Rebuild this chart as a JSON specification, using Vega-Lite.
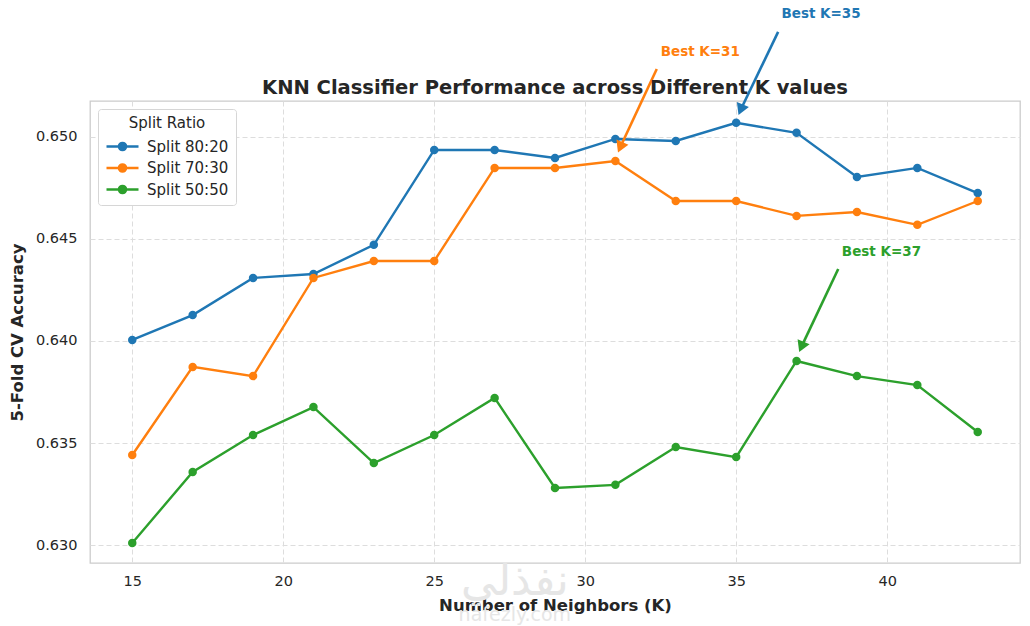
{
  "$schema": "https://vega.github.io/schema/vega-lite/v6.json",
  "width": 930,
  "height": 462,
  "autosize": {"type": "none"},
  "padding": {"left": 90, "top": 101, "right": 10, "bottom": 63},
  "background": "white",
  "title": {
    "text": "KNN Classifier Performance across Different K values",
    "fontSize": 19.5,
    "fontWeight": "bold",
    "color": "#262626",
    "offset": 8,
    "dy": 100
  },
  "datasets": {
    "scores": [
      {"split": "Split 80:20", "k": 15, "acc": 0.64005},
      {"split": "Split 80:20", "k": 17, "acc": 0.64127},
      {"split": "Split 80:20", "k": 19, "acc": 0.64309},
      {"split": "Split 80:20", "k": 21, "acc": 0.64328},
      {"split": "Split 80:20", "k": 23, "acc": 0.64471},
      {"split": "Split 80:20", "k": 25, "acc": 0.64936},
      {"split": "Split 80:20", "k": 27, "acc": 0.64936},
      {"split": "Split 80:20", "k": 29, "acc": 0.64897},
      {"split": "Split 80:20", "k": 31, "acc": 0.6499},
      {"split": "Split 80:20", "k": 33, "acc": 0.6498},
      {"split": "Split 80:20", "k": 35, "acc": 0.65069},
      {"split": "Split 80:20", "k": 37, "acc": 0.6502},
      {"split": "Split 80:20", "k": 39, "acc": 0.64804},
      {"split": "Split 80:20", "k": 41, "acc": 0.64848},
      {"split": "Split 80:20", "k": 43, "acc": 0.64725},
      {"split": "Split 70:30", "k": 15, "acc": 0.63441},
      {"split": "Split 70:30", "k": 17, "acc": 0.63873},
      {"split": "Split 70:30", "k": 19, "acc": 0.63828},
      {"split": "Split 70:30", "k": 21, "acc": 0.64309},
      {"split": "Split 70:30", "k": 23, "acc": 0.64392},
      {"split": "Split 70:30", "k": 25, "acc": 0.64392},
      {"split": "Split 70:30", "k": 27, "acc": 0.64848},
      {"split": "Split 70:30", "k": 29, "acc": 0.64848},
      {"split": "Split 70:30", "k": 31, "acc": 0.64882},
      {"split": "Split 70:30", "k": 33, "acc": 0.64686},
      {"split": "Split 70:30", "k": 35, "acc": 0.64686},
      {"split": "Split 70:30", "k": 37, "acc": 0.64613},
      {"split": "Split 70:30", "k": 39, "acc": 0.64632},
      {"split": "Split 70:30", "k": 41, "acc": 0.64569},
      {"split": "Split 70:30", "k": 43, "acc": 0.64686},
      {"split": "Split 50:50", "k": 15, "acc": 0.6301},
      {"split": "Split 50:50", "k": 17, "acc": 0.63358},
      {"split": "Split 50:50", "k": 19, "acc": 0.63539},
      {"split": "Split 50:50", "k": 21, "acc": 0.63676},
      {"split": "Split 50:50", "k": 23, "acc": 0.63402},
      {"split": "Split 50:50", "k": 25, "acc": 0.63539},
      {"split": "Split 50:50", "k": 27, "acc": 0.63721},
      {"split": "Split 50:50", "k": 29, "acc": 0.6328},
      {"split": "Split 50:50", "k": 31, "acc": 0.63295},
      {"split": "Split 50:50", "k": 33, "acc": 0.6348},
      {"split": "Split 50:50", "k": 35, "acc": 0.63431},
      {"split": "Split 50:50", "k": 37, "acc": 0.63902},
      {"split": "Split 50:50", "k": 39, "acc": 0.63828},
      {"split": "Split 50:50", "k": 41, "acc": 0.63784},
      {"split": "Split 50:50", "k": 43, "acc": 0.63554}
    ],
    "best": [
      {"split": "Split 80:20", "label": "Best K=35", "textK": 36.5, "textAcc": 0.65569, "tailK": 36.39, "tailAcc": 0.65515, "headK": 35.15, "headAcc": 0.65133},
      {"split": "Split 70:30", "label": "Best K=31", "textK": 32.5, "textAcc": 0.65382, "tailK": 32.37, "tailAcc": 0.65333, "headK": 31.16, "headAcc": 0.64949},
      {"split": "Split 50:50", "label": "Best K=37", "textK": 38.5, "textAcc": 0.64402, "tailK": 38.38, "tailAcc": 0.64353, "headK": 37.16, "headAcc": 0.63971}
    ],
    "watermark": [
      {"text": "نفذلي", "k": 27.67, "acc": 0.62819},
      {"text": "nafezly.com", "k": 27.67, "acc": 0.62655}
    ]
  },
  "layer": [
    {
      "data": {"name": "watermark"},
      "mark": {"type": "text", "font": "DejaVu Sans", "color": "#e6e6e6"},
      "encoding": {
        "x": {"field": "k", "type": "quantitative"},
        "y": {"field": "acc", "type": "quantitative"},
        "text": {"field": "text"},
        "size": {
          "condition": {"test": "datum.text == 'nafezly.com'", "value": 19},
          "value": 44
        }
      }
    },
    {
      "data": {"name": "scores"},
      "mark": {
        "type": "line",
        "strokeWidth": 2.4,
        "point": {"filled": true, "size": 72, "opacity": 1}
      },
      "encoding": {
        "x": {
          "field": "k",
          "type": "quantitative",
          "title": "Number of Neighbors (K)",
          "scale": {"domain": [13.6, 44.4], "nice": false, "zero": false},
          "axis": {"values": [15, 20, 25, 30, 35, 40], "labelPadding": 11, "titlePadding": 10}
        },
        "y": {
          "field": "acc",
          "type": "quantitative",
          "title": "5-Fold CV Accuracy",
          "scale": {"domain": [0.62912, 0.65176], "nice": false, "zero": false},
          "axis": {"values": [0.63, 0.635, 0.64, 0.645, 0.65], "format": ".3f", "labelPadding": 13, "titlePadding": 10}
        },
        "color": {
          "field": "split",
          "type": "nominal",
          "scale": {
            "domain": ["Split 80:20", "Split 70:30", "Split 50:50"],
            "range": ["#1f77b4", "#ff7f0e", "#2ca02c"]
          },
          "legend": {
            "title": "Split Ratio",
            "orient": "top-left",
            "offset": 8,
            "symbolType": "M-1,0L3,0M0.55,0A0.45,0.45,0,1,1,1.45,0A0.45,0.45,0,1,1,0.55,0",
            "symbolSize": 256,
            "symbolStrokeWidth": 2.4,
            "labelOffset": 23,
            "encode": {
              "symbols": {
                "update": {
                  "fill": {"scale": "color", "field": "value"},
                  "stroke": {"scale": "color", "field": "value"},
                  "opacity": {"value": 1}
                }
              }
            }
          }
        },
        "order": {"field": "k"}
      }
    },
    {
      "data": {"name": "best"},
      "mark": {"type": "rule", "strokeWidth": 2.6},
      "encoding": {
        "x": {"field": "tailK", "type": "quantitative"},
        "y": {"field": "tailAcc", "type": "quantitative"},
        "x2": {"field": "headK"},
        "y2": {"field": "headAcc"},
        "color": {"field": "split", "type": "nominal", "legend": null}
      }
    },
    {
      "data": {"name": "best"},
      "mark": {"type": "point", "shape": "triangle-down", "filled": true, "size": 170, "angle": 23, "opacity": 1},
      "encoding": {
        "x": {"field": "headK", "type": "quantitative"},
        "y": {"field": "headAcc", "type": "quantitative"},
        "color": {"field": "split", "type": "nominal", "legend": null}
      }
    },
    {
      "data": {"name": "best"},
      "mark": {"type": "text", "align": "left", "baseline": "bottom", "fontWeight": "bold", "fontSize": 13.5, "font": "DejaVu Sans"},
      "encoding": {
        "x": {"field": "textK", "type": "quantitative"},
        "y": {"field": "textAcc", "type": "quantitative"},
        "text": {"field": "label"},
        "color": {"field": "split", "type": "nominal", "legend": null}
      }
    }
  ],
  "config": {
    "font": "DejaVu Sans",
    "view": {"stroke": "#cccccc", "strokeWidth": 1.3},
    "axis": {
      "domain": false,
      "ticks": false,
      "grid": true,
      "gridColor": "#dddddd",
      "gridDash": [5, 3],
      "gridWidth": 1,
      "labelFont": "DejaVu Sans",
      "labelFontSize": 14.5,
      "labelColor": "#262626",
      "titleFont": "DejaVu Sans",
      "titleFontSize": 16.5,
      "titleFontWeight": "bold",
      "titleColor": "#262626"
    },
    "legend": {
      "titleFont": "DejaVu Sans",
      "titleFontSize": 15,
      "titleFontWeight": "normal",
      "titleColor": "#262626",
      "titleAnchor": "middle",
      "titlePadding": 6,
      "labelFont": "DejaVu Sans",
      "labelFontSize": 15,
      "labelColor": "#262626",
      "fillColor": "white",
      "strokeColor": "#d6d6d6",
      "cornerRadius": 3,
      "padding": 7,
      "rowPadding": 3.5
    }
  }
}
